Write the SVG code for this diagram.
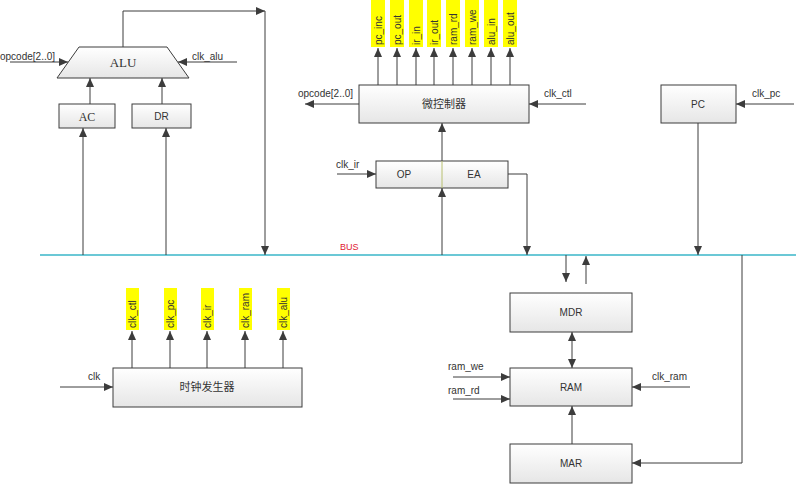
<svg xmlns="http://www.w3.org/2000/svg" width="796" height="485" viewBox="0 0 796 485">
<defs>
<linearGradient id="g" x1="0" y1="0" x2="0" y2="1"><stop offset="0" stop-color="#ffffff"/><stop offset="1" stop-color="#e6e6e6"/></linearGradient>
<marker id="a" markerUnits="userSpaceOnUse" markerWidth="10" markerHeight="8" refX="9" refY="4" orient="auto-start-reverse"><path d="M0,0 L9,4 L0,8 z" fill="#3c3c3c"/></marker>
</defs>
<style>
.box{fill:url(#g);stroke:#3c3c3c;stroke-width:1}
.t{font-family:"Liberation Sans",Arial,sans-serif;font-size:10px;fill:#333}
.c{text-anchor:middle}
.s{font-family:"Liberation Serif","Times New Roman",serif;font-size:13px;fill:#333;text-anchor:middle}
.cj{font-family:"Liberation Sans","Noto Sans CJK SC",sans-serif;font-size:11px;fill:#333;text-anchor:middle}
.ln{fill:none;stroke:#3c3c3c;stroke-width:1}
.ar{marker-end:url(#a)}
.y{fill:#ffff00}
</style>
<rect width="796" height="485" fill="#ffffff"/>

<g id="bus">
<line x1="40" y1="255" x2="796" y2="255" stroke="#3ab6c9" stroke-width="1.3"/>
<text x="340" y="250" class="t" fill="#e0202a" style="fill:#e02030;font-size:9px">BUS</text>
</g>

<g id="alu">
<polygon points="79,47 167,47 189,78 57,78" class="box"/>
<text x="123" y="67" class="s">ALU</text>
</g>
<g id="ac"><rect x="59" y="104" width="56" height="24" class="box"/><text x="87" y="121" class="s" style="font-size:12px">AC</text></g>
<g id="dr"><rect x="132" y="104" width="59" height="24" class="box"/><text x="161.5" y="120" class="t c">DR</text></g>

<g id="ctrl"><rect x="359" y="85" width="170" height="38" class="box"/><text x="444" y="108" class="cj">微控制器</text></g>
<g id="pc"><rect x="661" y="85" width="75" height="38" class="box"/><text x="698" y="108" class="t c">PC</text></g>
<g id="ir">
<rect x="376" y="161" width="132" height="27" class="box"/>
<line x1="442" y1="161" x2="442" y2="188" stroke="#b8c070" stroke-width="1"/>
<text x="404" y="178" class="t c">OP</text><text x="474" y="178" class="t c">EA</text>
</g>
<g id="mdr"><rect x="510" y="293" width="122" height="39" class="box"/><text x="571" y="316" class="t c">MDR</text></g>
<g id="ram"><rect x="510" y="368" width="122" height="38" class="box"/><text x="571" y="391" class="t c">RAM</text></g>
<g id="mar"><rect x="510" y="444" width="122" height="39" class="box"/><text x="571" y="467" class="t c">MAR</text></g>
<g id="clkgen"><rect x="113" y="368" width="189" height="39" class="box"/><text x="207" y="391" class="cj">时钟发生器</text></g>

<g id="ctrl-signals">
<rect x="371" y="0" width="14" height="47" class="y"/>
<rect x="390" y="0" width="14" height="47" class="y"/>
<rect x="409" y="0" width="14" height="47" class="y"/>
<rect x="427" y="0" width="14" height="47" class="y"/>
<rect x="446" y="0" width="14" height="47" class="y"/>
<rect x="465" y="0" width="14" height="47" class="y"/>
<rect x="484" y="0" width="14" height="47" class="y"/>
<rect x="503" y="0" width="14" height="47" class="y"/>
<text class="t" transform="translate(382,45) rotate(-90)">pc_inc</text>
<text class="t" transform="translate(401,45) rotate(-90)">pc_out</text>
<text class="t" transform="translate(420,45) rotate(-90)">ir_in</text>
<text class="t" transform="translate(438,45) rotate(-90)">ir_out</text>
<text class="t" transform="translate(457,45) rotate(-90)">ram_rd</text>
<text class="t" transform="translate(476,45) rotate(-90)">ram_we</text>
<text class="t" transform="translate(495,45) rotate(-90)">alu_in</text>
<text class="t" transform="translate(514,45) rotate(-90)">alu_out</text>
</g>

<g id="clk-signals">
<rect x="126" y="288" width="13" height="42" class="y"/>
<rect x="164" y="288" width="13" height="42" class="y"/>
<rect x="201" y="288" width="13" height="42" class="y"/>
<rect x="239" y="288" width="13" height="42" class="y"/>
<rect x="277" y="288" width="13" height="42" class="y"/>
<text class="t" transform="translate(136,328) rotate(-90)">clk_ctl</text>
<text class="t" transform="translate(174,328) rotate(-90)">clk_pc</text>
<text class="t" transform="translate(211,328) rotate(-90)">clk_ir</text>
<text class="t" transform="translate(249,328) rotate(-90)">clk_ram</text>
<text class="t" transform="translate(287,328) rotate(-90)">clk_alu</text>
</g>

<g id="labels">
<text x="0" y="60" class="t">opcode[2..0]</text>
<text x="192" y="60" class="t">clk_alu</text>
<text x="298" y="97" class="t">opcode[2..0]</text>
<text x="544" y="97" class="t">clk_ctl</text>
<text x="752" y="97" class="t">clk_pc</text>
<text x="336" y="168" class="t">clk_ir</text>
<text x="88" y="380" class="t">clk</text>
<text x="448" y="370" class="t">ram_we</text>
<text x="448" y="394" class="t">ram_rd</text>
<text x="652" y="380" class="t">clk_ram</text>
</g>

<g id="connectors">
<line x1="10" y1="62" x2="68" y2="62" class="ln ar"/>
<line x1="237" y1="62" x2="178" y2="62" class="ln ar"/>
<polyline points="123,47 123,11 265,11" class="ln ar"/>
<line x1="265" y1="11" x2="265" y2="255" class="ln ar"/>
<line x1="90" y1="104" x2="90" y2="78" class="ln ar"/>
<line x1="162" y1="104" x2="162" y2="78" class="ln ar"/>
<line x1="83" y1="255" x2="83" y2="128" class="ln ar"/>
<line x1="166" y1="255" x2="166" y2="128" class="ln ar"/>
<line x1="378" y1="85" x2="378" y2="48" class="ln ar"/>
<line x1="397" y1="85" x2="397" y2="48" class="ln ar"/>
<line x1="416" y1="85" x2="416" y2="48" class="ln ar"/>
<line x1="434" y1="85" x2="434" y2="48" class="ln ar"/>
<line x1="453" y1="85" x2="453" y2="48" class="ln ar"/>
<line x1="472" y1="85" x2="472" y2="48" class="ln ar"/>
<line x1="491" y1="85" x2="491" y2="48" class="ln ar"/>
<line x1="510" y1="85" x2="510" y2="48" class="ln ar"/>
<line x1="359" y1="104" x2="305" y2="104" class="ln ar"/>
<line x1="586" y1="104" x2="529" y2="104" class="ln ar"/>
<line x1="794" y1="104" x2="736" y2="104" class="ln ar"/>
<line x1="698" y1="123" x2="698" y2="255" class="ln ar"/>
<line x1="337" y1="174" x2="376" y2="174" class="ln ar"/>
<line x1="442" y1="255" x2="442" y2="188" class="ln ar"/>
<line x1="442" y1="161" x2="442" y2="123" class="ln ar"/>
<polyline points="508,174 527,174 527,255" class="ln ar"/>
<line x1="566" y1="255" x2="566" y2="282" class="ln ar"/>
<line x1="586" y1="284" x2="586" y2="256" class="ln ar"/>
<line x1="572" y1="332" x2="572" y2="368" class="ln ar" marker-start="url(#a)"/>
<line x1="572" y1="444" x2="572" y2="406" class="ln ar"/>
<line x1="453" y1="377" x2="510" y2="377" class="ln ar"/>
<line x1="453" y1="399" x2="510" y2="399" class="ln ar"/>
<line x1="690" y1="387" x2="632" y2="387" class="ln ar"/>
<polyline points="742,255 742,463 632,463" class="ln ar"/>
<line x1="60" y1="387" x2="113" y2="387" class="ln ar"/>
<line x1="132" y1="368" x2="132" y2="331" class="ln ar"/>
<line x1="170" y1="368" x2="170" y2="331" class="ln ar"/>
<line x1="207" y1="368" x2="207" y2="331" class="ln ar"/>
<line x1="245" y1="368" x2="245" y2="331" class="ln ar"/>
<line x1="283" y1="368" x2="283" y2="331" class="ln ar"/>
</g>
</svg>
